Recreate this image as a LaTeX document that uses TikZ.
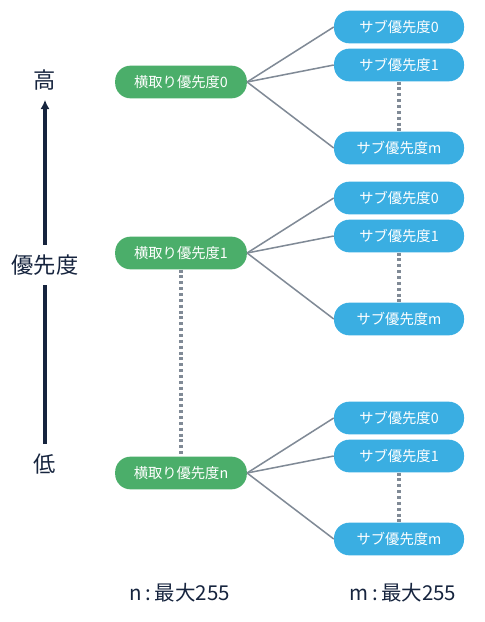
\documentclass[tikz,border=0pt]{standalone}
\usepackage{fontspec}
\setmainfont{Noto Sans CJK JP}
\usetikzlibrary{arrows.meta,positioning}
\definecolor{leaf}{RGB}{75,174,106}
\definecolor{sky}{RGB}{58,174,226}
\definecolor{slate}{RGB}{128,138,150}
\definecolor{navy}{RGB}{22,36,62}
\tikzset{
  >={Latex[length=2.8mm,width=2.8mm]},
  prio/.style={fill=#1,text=white,rounded corners=0.46cm,minimum height=0.98cm,
    minimum width=3.95cm,inner sep=2pt,font=\fontsize{12.2}{14}\selectfont},
  prio/.default=leaf,
  link/.style={draw=slate,line width=1.3pt},
  gap/.style={draw=slate,line width=2.8pt,dash pattern=on 2.6pt off 2.4pt},
  axis/.style={font=\fontsize{19}{22}\selectfont,text=navy,inner sep=8pt},
  note/.style={font=\fontsize{17.5}{20}\selectfont,text=navy},
}
\begin{document}
\begin{tikzpicture}[x=0.03cm,y=-0.03cm]
  \useasboundingbox (0,0) rectangle (485,622);
  % axis
  \node[axis] (hi) at (45,80) {高};
  \node[axis] (mid) at (45,265) {優先度};
  \node[axis] (lo) at (45,464) {低};
  \draw[navy,line width=2.6pt] (lo) -- (mid);
  \draw[navy,line width=2.6pt,->] (mid) -- (hi);
  % groups
  \foreach \g/\y in {0/82,1/253,n/473}{
    \node[prio] (g\g) at (181,\y) {横取り優先度\g};
    \node[prio=sky,minimum width=3.9cm] (a\g) at (399,\y-55) {サブ優先度0};
    \node[prio=sky,minimum width=3.9cm] (b\g) at (399,\y-17) {サブ優先度1};
    \node[prio=sky,minimum width=3.9cm] (c\g) at (399,\y+66) {サブ優先度m};
    \foreach \s in {a,b,c} \draw[link] (g\g.east) -- (\s\g.west);
    \draw[gap] (b\g) -- (c\g);
  }
  \draw[gap] (g1) -- (gn);
  \node[note] (nmax) at (180,593) {n\,:\,最大255};
  \node[note] (mmax) at (403,593) {m\,:\,最大255};
\end{tikzpicture}
\end{document}
